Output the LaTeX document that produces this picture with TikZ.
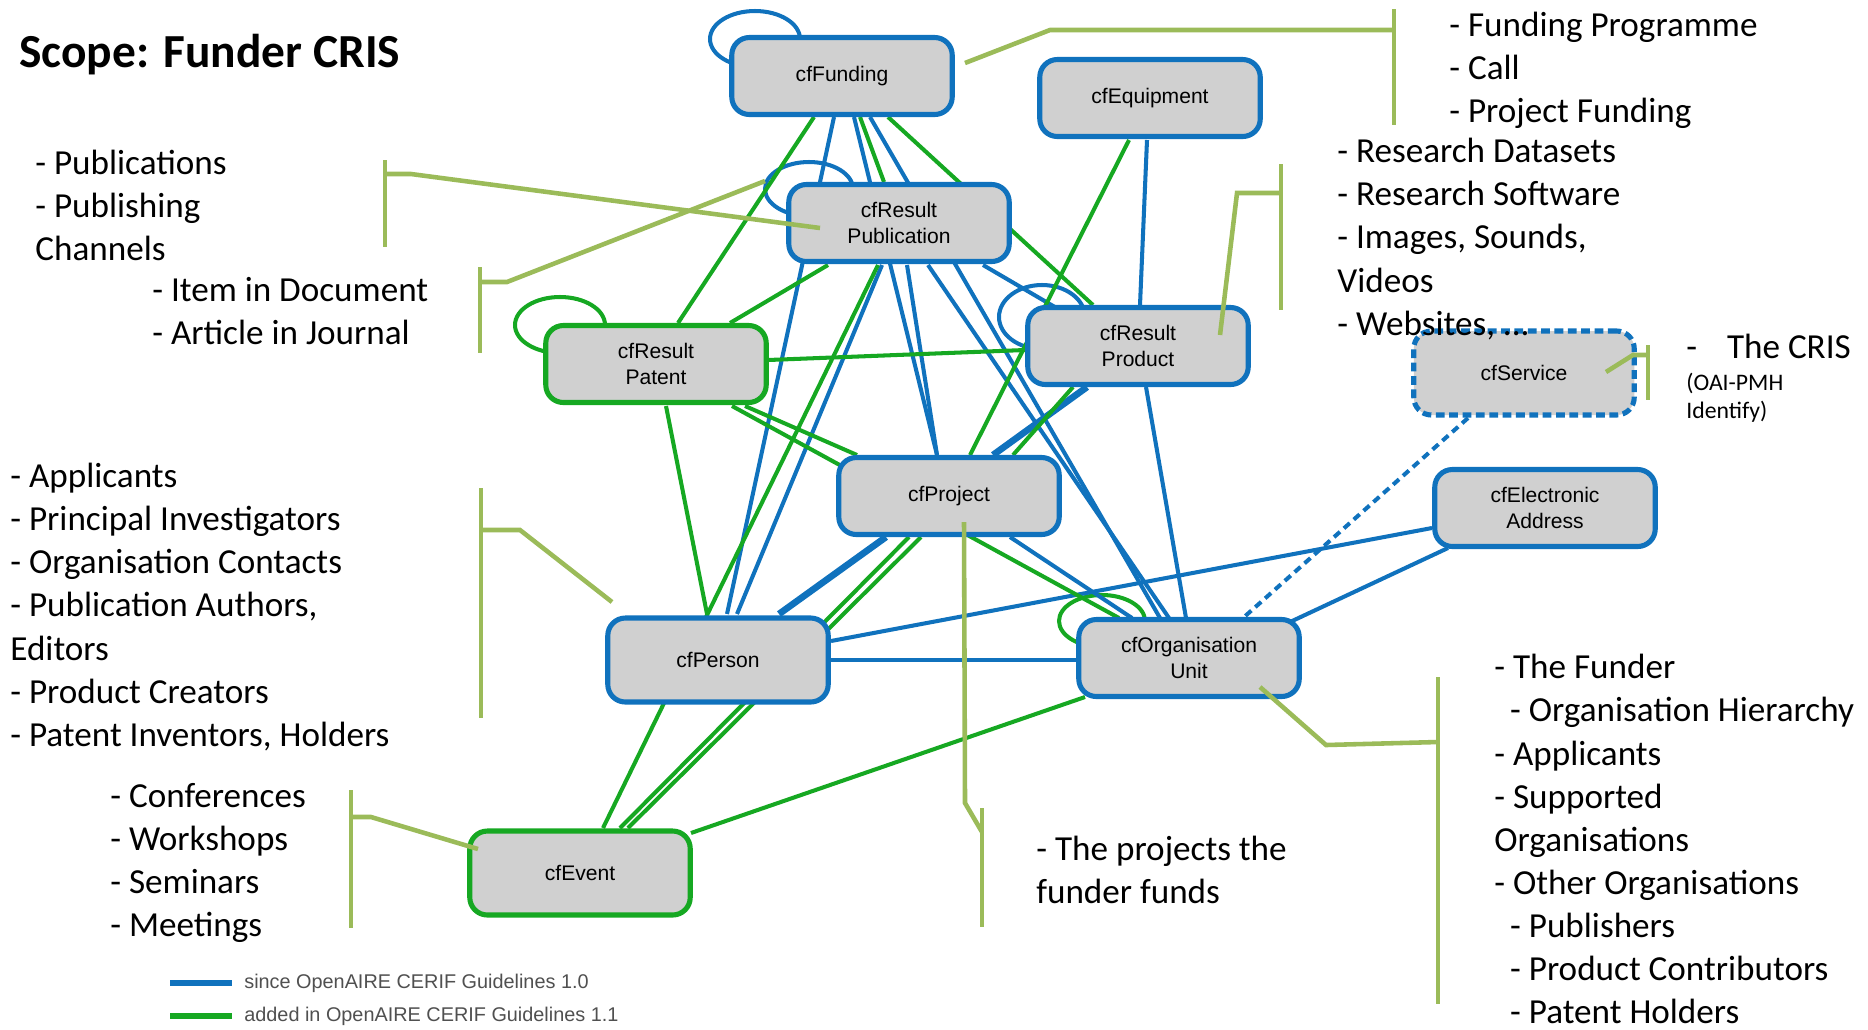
\documentclass[tikz,border=0pt]{standalone}
\usepackage{fontspec}
\setmainfont{Carlito}
\newfontfamily\arialfont{Liberation Sans}
\usetikzlibrary{calc}

\pgfdeclarelayer{background}
\pgfsetlayers{background,main}

\definecolor{cfblue}{RGB}{16,114,189}
\definecolor{cfgreen}{RGB}{22,168,34}
\definecolor{hintolive}{RGB}{155,187,89}
\definecolor{boxgray}{RGB}{208,208,208}
\definecolor{keygray}{RGB}{80,80,80}

\begin{document}
\begin{tikzpicture}[x=0.02cm, y=-0.02cm,
    cerifbox/.style={rectangle, rounded corners=10pt, fill=boxgray, line width=2.9pt,
        minimum width=4.41cm, minimum height=1.54cm, inner sep=0pt, align=center,
        font=\arialfont\fontsize{12}{14.8}\selectfont},
    oldbox/.style={cerifbox, draw=cfblue},
    newbox/.style={cerifbox, draw=cfgreen},
    oldlink/.style={draw=cfblue, line width=2.3pt},
    newlink/.style={draw=cfgreen, line width=2.3pt},
    hint/.style={draw=hintolive, line width=2.6pt},
    listing/.style={anchor=west, align=left, inner sep=0pt, font=\fontsize{20}{24.5}\selectfont},
    keytext/.style={anchor=west, inner sep=0pt, text=keygray, font=\arialfont\fontsize{11.3}{13}\selectfont}]
    \useasboundingbox (0,0) rectangle (1868,1029);

    % entities
    \node[oldbox] (fu) at (842,76) {cfFunding};
    \node[oldbox] (eq) at (1150,98) {cfEquipment};
    \node[oldbox] (pub) at (899,223) {cfResult\\Publication};
    \node[newbox] (pat) at (656,364) {cfResult\\Patent};
    \node[oldbox] (prod) at (1138,346) {cfResult\\Product};
    \node[oldbox, minimum height=1.68cm, dash pattern=on 5pt off 2.6pt] (serv) at (1524,373) {cfService};
    \node[oldbox] (proj) at (949,496) {cfProject};
    \node[oldbox] (ea) at (1545,508) {cfElectronic\\Address};
    \node[oldbox, minimum height=1.68cm] (pers) at (718,660) {cfPerson};
    \node[oldbox] (ou) at (1189,658) {cfOrganisation\\Unit};
    \node[newbox, minimum height=1.68cm] (ev) at (580,873) {cfEvent};

    \newcommand{\selfloop}[5]{
        \draw[#2, line width=2.3pt] ($(#1)+(#3)$) ellipse [x radius=#4, y radius=#5];
    }

    \begin{pgfonlayer}{background}
        \selfloop{fu}{cfblue}{-87,-37}{45}{28}
        \selfloop{pub}{cfblue}{-90,-34}{44}{27}
        \selfloop{pat}{cfgreen}{-96,-39}{45}{28}
        \selfloop{prod}{cfblue}{-96,-29}{43}{32}
        \selfloop{ou}{cfgreen}{-87,-37}{43}{26}

        % since 1.0
        \draw[oldlink] ($(fu)+(-8,41)$) -- ($(pers)+(9,-46)$);
        \draw[oldlink] ($(fu)+(12,41)$) -- ($(proj)+(-12,-41)$);
        \draw[oldlink] ($(fu)+(28,41)$) -- ($(ou)+(-29,-40)$);
        \draw[oldlink] ($(pub)+(-17,42)$) -- ($(pers)+(19,-46)$);
        \draw[oldlink] ($(pub)+(8,42)$) -- ($(proj)+(-12,-41)$);
        \draw[oldlink] ($(pub)+(29,42)$) -- ($(ou)+(-20,-40)$);
        \draw[oldlink] ($(pub)+(84,42)$) -- ($(prod)+(-78,-36)$);
        \draw[oldlink] ($(eq)+(-3,42)$) -- ($(prod)+(2,-41)$);
        \draw[oldlink] ($(prod)+(8,41)$) -- ($(ou)+(-3,-40)$);
        \draw[oldlink] ($(proj)+(61,41)$) -- ($(ou)+(-57,-40)$);
        \draw[oldlink, line width=3.8pt] ($(proj)+(-63,41)$) -- ($(pers)+(61,-46)$);
        \draw[oldlink, line width=3.8pt] ($(proj)+(44,-41)$) -- ($(prod)+(-51,41)$);
        \draw[oldlink] (pers) -- (pers -| ou);
        \draw[oldlink] ($(ea)+(-113,20)$) -- ($(pers)+(113,-19)$);
        \draw[oldlink] ($(ea)+(-97,40)$) -- ($(ou)+(101,-36)$);
        \draw[oldlink, dash pattern=on 4.5pt off 3pt] ($(serv)+(-56,45)$) -- ($(ou)+(54,-40)$);

        % added in 1.1
        \draw[newlink] ($(fu)+(-28,41)$) -- ($(pat)+(22,-41)$);
        \draw[newlink] ($(fu)+(18,41)$) -- ($(pub)+(-15,-41)$);
        \draw[newlink] ($(fu)+(46,41)$) -- ($(prod)+(-45,-41)$);
        \draw[newlink] ($(pub)+(-71,42)$) -- ($(pat)+(74,-41)$);
        \draw[newlink] ($(pub)+(-21,42)$) -- ($(ev)+(23,-45)$);
        \draw[newlink] ($(pat)+(112,-4)$) -- ($(prod)+(-113,4)$);
        \draw[newlink] ($(pat)+(10,42)$) -- ($(pers)+(-11,-46)$);
        \draw[newlink] ($(pat)+(89,42)$) -- ($(proj)+(-92,-41)$);
        \draw[newlink] ($(pat)+(76,42)$) -- ($(ou)+(-70,-40)$);
        \draw[newlink] ($(eq)+(-21,42)$) -- ($(proj)+(21,-41)$);
        \draw[newlink] ($(proj)+(64,-41)$) -- ($(prod)+(-65,41)$);
        \draw[newlink] ($(proj)+(-40,41)$) -- ($(ev)+(40,-45)$);
        \draw[newlink] ($(proj)+(-28,41)$) -- ($(ev)+(48,-45)$);
        \draw[newlink] ($(ev)+(111,-40)$) -- ($(ou)+(-104,39)$);
    \end{pgfonlayer}

    % pointers to the notes
    \coordinate (fundjoin) at (1394,30);
    \coordinate (pubjoin) at (385,174);
    \coordinate (docjoin) at (480,282);
    \coordinate (prodjoin) at (1281,193);
    \coordinate (servjoin) at (1648,355);
    \coordinate (persjoin) at (481,530);
    \coordinate (evjoin) at (351,817);
    \coordinate (projjoin) at (982,832);
    \coordinate (oujoin) at (1438,742);

    \draw[hint] ($(fu)+(123,-13)$) -- ++(85,-33) -- (fundjoin);
    \draw[hint] ($(pub)+(-79,5)$) -- ++(-409,-54) -- (pubjoin);
    \draw[hint] ($(pub)+(-134,-42)$) -- ++(-258,101) -- (docjoin);
    \draw[hint] ($(prod)+(82,-11)$) -- ++(17,-142) -- (prodjoin);
    \draw[hint] ($(serv)+(82,-1)$) -- ++(27,-17) -- (servjoin);
    \draw[hint] ($(pers)+(-106,-58)$) -- ++(-92,-72) -- (persjoin);
    \draw[hint] ($(ev)+(-102,-24)$) -- ++(-107,-32) -- (evjoin);
    \draw[hint] ($(proj)+(15,26)$) -- ++(1,281) -- (projjoin);
    \draw[hint] ($(ou)+(71,29)$) -- ++(66,58) -- (oujoin);

    \draw[hint] (1394,9) -- (1394,125);
    \draw[hint] (385,160) -- (385,247);
    \draw[hint] (480,267) -- (480,353);
    \draw[hint] (1281,164) -- (1281,310);
    \draw[hint] (1648,345) -- (1648,400);
    \draw[hint] (481,488) -- (481,718);
    \draw[hint] (351,790) -- (351,928);
    \draw[hint] (982,808) -- (982,927);
    \draw[hint] (1438,677) -- (1438,1004);

    % notes
    \node[anchor=west, inner sep=0pt, font=\bfseries\fontsize{27}{32}\selectfont] (title) at (19,55) {Scope: Funder CRIS};
    \node[listing] (fundnote) at (1449,70) {- Funding Programme\\- Call\\- Project Funding};
    \node[listing] (pubnote) at (35,205) {- Publications\\- Publishing\\Channels};
    \node[listing] (docnote) at (152,311) {- Item in Document\\- Article in Journal};
    \node[listing] (prodnote) at (1337,239) {- Research Datasets\\- Research Software\\- Images, Sounds,\\Videos\\- Websites, ...};
    \node[listing] (servnote) at (1686,346) {-\hspace{17pt}The CRIS};
    \node[listing, font=\fontsize{13.5}{16}\selectfont] (oainote) at (1686,398) {(OAI-PMH\\Identify)};
    \node[listing] (persnote) at (10,607) {- Applicants\\- Principal Investigators\\- Organisation Contacts\\- Publication Authors,\\Editors\\- Product Creators\\- Patent Inventors, Holders};
    \node[listing] (evnote) at (110,863) {- Conferences\\- Workshops\\- Seminars\\- Meetings};
    \node[listing] (projnote) at (1036,870) {- The projects the\\funder funds};
    \node[listing] (ounote) at (1494,839) {- The Funder\\\hspace*{9pt}- Organisation Hierarchy\\- Applicants\\- Supported\\Organisations\\- Other Organisations\\\hspace*{9pt}- Publishers\\\hspace*{9pt}- Product Contributors\\\hspace*{9pt}- Patent Holders};

    % key
    \node[keytext] (oldkey) at (244,983) {since OpenAIRE CERIF Guidelines 1.0};
    \node[keytext] (newkey) at (244,1016) {added in OpenAIRE CERIF Guidelines 1.1};
    \draw[cfblue, line width=3.5pt] ($(oldkey.west)+(-74,0)$) -- ($(oldkey.west)+(-12,0)$);
    \draw[cfgreen, line width=3.5pt] ($(newkey.west)+(-74,0)$) -- ($(newkey.west)+(-12,0)$);
\end{tikzpicture}
\end{document}
